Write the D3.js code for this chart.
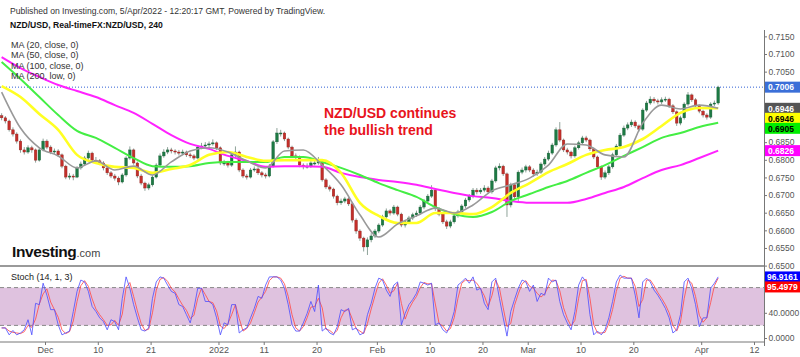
<!DOCTYPE html>
<html><head><meta charset="utf-8">
<script src="https://cdn.jsdelivr.net/npm/d3@7"></script>
<style>body{margin:0;background:#fff}svg{display:block;font-family:"Liberation Sans",Arial,sans-serif}</style>
</head><body><svg id="c" width="800" height="357"></svg>
<script>
// ---- DATA (prices in pips: 1 = 0.0001) ----
const firstOpen = 6925;
const closes = [6919,6910,6885,6873,6853,6828,6822,6834,6828,6799,
6828,6853,6836,6822,6825,6814,6782,6751,6754,6751,
6777,6788,6805,6819,6799,6797,6791,6777,6763,6754,
6748,6737,6757,6805,6828,6791,6754,6734,6720,6729,
6751,6785,6811,6822,6828,6825,6822,6819,6822,6814,
6811,6805,6836,6839,6842,6845,6848,6834,6791,6791,
6785,6814,6822,6771,6754,6751,6771,6774,6763,6757,
6754,6782,6851,6876,6876,6859,6836,6811,6808,6785,
6780,6782,6791,6791,6797,6743,6723,6717,6697,6678,
6683,6689,6675,6629,6598,6578,6553,6573,6584,6598,
6615,6638,6655,6649,6666,6646,6615,6624,6635,6644,
6649,6666,6683,6697,6714,6661,6646,6624,6612,6624,
6641,6652,6669,6686,6697,6714,6709,6714,6720,6709,
6740,6777,6782,6760,6672,6729,6695,6765,6771,6780,
6771,6760,6765,6788,6802,6819,6842,6885,6856,6828,
6822,6811,6834,6848,6862,6856,6831,6808,6780,6751,
6763,6780,6814,6839,6870,6890,6899,6907,6896,6887,
6941,6961,6972,6967,6964,6970,6972,6953,6936,6904,
6919,6958,6984,6970,6953,6938,6927,6921,6958,6961,
7006];
const highs = [6932,6924,6914,6892,6878,6858,6836,6841,6840,6832,
6834,6860,6858,6841,6832,6830,6818,6786,6762,6760,
6782,6795,6811,6826,6823,6808,6802,6796,6781,6768,
6760,6753,6762,6810,6838,6832,6795,6760,6738,6735,
6756,6790,6818,6830,6836,6834,6830,6828,6829,6826,
6820,6816,6842,6848,6850,6852,6858,6852,6838,6800,
6797,6820,6838,6826,6776,6760,6777,6781,6779,6768,
6763,6788,6856,6890,6885,6880,6863,6840,6818,6812,
6790,6790,6797,6798,6808,6800,6748,6729,6721,6701,
6690,6695,6694,6679,6634,6603,6582,6580,6592,6604,
6620,6644,6662,6660,6672,6670,6650,6630,6641,6650,
6656,6672,6689,6703,6728,6718,6666,6650,6630,6630,
6646,6658,6674,6692,6703,6720,6720,6720,6728,6725,
6746,6783,6790,6786,6764,6735,6734,6770,6778,6786,
6785,6776,6772,6793,6808,6826,6848,6892,6907,6860,
6834,6826,6840,6854,6868,6868,6860,6835,6812,6784,
6770,6786,6820,6845,6876,6897,6906,6914,6912,6900,
6946,6967,6980,6978,6973,6977,6979,6976,6958,6940,
6925,6963,6992,6988,6975,6957,6942,6932,6963,6968,
7010];
const lows = [6912,6903,6880,6866,6846,6820,6815,6817,6820,6792,
6795,6824,6830,6816,6815,6808,6776,6745,6744,6742,
6748,6772,6783,6800,6794,6790,6785,6770,6757,6748,
6741,6728,6733,6752,6800,6786,6748,6728,6712,6714,
6724,6747,6780,6806,6816,6818,6815,6812,6813,6808,
6805,6799,6801,6830,6834,6836,6840,6828,6785,6783,
6778,6780,6808,6765,6748,6744,6747,6766,6757,6750,
6747,6750,6778,6845,6866,6853,6830,6805,6800,6779,
6773,6775,6777,6784,6786,6738,6717,6710,6690,6671,
6672,6677,6669,6622,6590,6570,6540,6530,6566,6578,
6592,6610,6632,6642,6644,6640,6609,6608,6619,6629,
6638,6644,6660,6678,6692,6655,6640,6618,6604,6606,
6619,6636,6647,6663,6680,6691,6702,6703,6708,6703,
6704,6735,6770,6754,6638,6665,6688,6680,6759,6764,
6765,6752,6754,6760,6782,6797,6814,6837,6850,6822,
6815,6804,6806,6829,6843,6850,6825,6802,6774,6743,
6745,6757,6775,6809,6834,6865,6884,6893,6890,6880,
6882,6936,6956,6960,6957,6958,6964,6947,6930,6896,
6898,6914,6953,6964,6947,6932,6920,6914,6916,6952,
6956];
// moving averages, one value every 5 candles
const ma20 = [6992,6890,6834,6811,6777,6797,6771,6782,6757,6794,6825,6834,6822,6797,6777,6825,6828,6785,6729,6644,6581,6618,6641,6663,6649,6672,6712,6729,6748,6785,6845,6842,6814,6808,6904,6955,6944,6955,6946];
const ma50 = [7009,6978,6930,6885,6814,6791,6780,6777,6763,6774,6785,6814,6822,6808,6797,6799,6799,6799,6763,6678,6641,6621,6621,6649,6649,6646,6666,6706,6734,6765,6788,6814,6828,6836,6859,6896,6933,6947,6946];
const ma100 = [7077,7029,6978,6927,6882,6862,6834,6805,6782,6780,6782,6791,6794,6794,6794,6808,6808,6794,6777,6757,6734,6714,6695,6666,6646,6638,6652,6683,6703,6723,6740,6763,6785,6811,6836,6862,6876,6893,6905];
const ma200 = [7091,7060,7035,7012,6995,6978,6955,6933,6902,6870,6845,6831,6811,6797,6780,6782,6782,6780,6763,6751,6743,6737,6729,6717,6706,6697,6692,6683,6678,6678,6678,6689,6706,6723,6748,6771,6785,6805,6826];
const stochK = [16,16,5,12,5,8,13,29,5,55,53,87,68,45,45,21,5,8,11,42,74,92,89,74,50,42,32,26,13,29,26,13,63,97,79,53,32,13,11,16,63,89,97,95,84,74,71,53,50,37,24,47,79,79,58,58,53,32,5,24,21,53,53,8,13,16,32,47,66,63,84,97,
97,97,92,79,53,21,11,11,24,39,58,42,84,11,16,8,5,18,45,42,47,13,16,5,8,37,55,79,95,92,76,66,84,89,21,39,53,61,71,89,87,84,87,21,24,13,8,21,42,84,89,95,87,97,76,79,55,45,89,95,63,32,3,42,61,79,92,89,74,84,
58,71,68,95,89,92,58,37,24,13,42,84,97,89,37,5,11,5,13,32,58,89,100,95,95,95,68,32,89,95,89,76,68,58,47,32,8,13,37,89,95,79,53,18,32,32,79,87,97];
const stochD = [16,16,11,9,8,7,10,20,17,30,54,70,78,57,45,33,13,7,10,27,58,83,91,82,62,46,37,29,20,21,28,20,38,80,88,66,43,23,12,14,40,76,93,96,90,79,73,62,52,44,31,36,63,79,69,58,56,43,19,15,23,37,53,31,11,15,24,40,57,65,74,91,
97,97,95,86,66,37,16,11,18,32,49,50,63,48,14,12,7,12,32,44,45,30,15,11,7,23,46,67,87,94,84,71,75,87,55,30,46,57,66,80,88,86,86,54,23,19,11,15,32,63,87,92,91,92,87,78,67,50,67,92,79,48,18,23,52,70,86,91,82,79,
71,65,70,82,92,91,75,48,31,19,28,63,91,93,63,21,8,8,9,23,45,74,95,98,95,95,82,50,61,92,92,83,72,63,53,40,20,11,25,63,92,87,66,36,25,32,56,83,95];
const tickDays = [0,7,14,23,29,36,44,51,58,64,71,78,87,94];
const tickLabels = ["Dec","10","21","2022","11","20","Feb","10","20","Mar","10","20","Apr","12"];
const priceTicks = [6500,6550,6600,6650,6700,6750,6800,6850,6900,6950,7000,7050,7100,7150];
const stochTicks = [0,40,80];
const maNames = ["MA (20, close, 0)","MA (50, close, 0)","MA (100, close, 0)","MA (200, low, 0)"];
const lastK = 96.9161, lastD = 95.4979;

// ---- DRAW ----
const svg = d3.select("#c");
const AX = 764;
const FF = "Liberation Sans, Arial, sans-serif";
const x = d3.scaleLinear().domain([0,94]).range([45,754]);
const cDay = i => -5.75 + 0.5*i;
const y = d3.scaleLinear().domain([6500,7100]).range([265.6,54]);
const ys = d3.scaleLinear().domain([0,100]).range([338,275]);

const defs = svg.append("defs");
defs.append("clipPath").attr("id","cm").append("rect").attr("x",0).attr("y",30).attr("width",AX).attr("height",236);
defs.append("clipPath").attr("id","cs").append("rect").attr("x",0).attr("y",267).attr("width",AX).attr("height",74);

// header texts
svg.append("text").attr("x",10).attr("y",13.5).attr("font-size",8.6).attr("fill","#333")
  .text("Published on Investing.com, 5/Apr/2022 - 12:20:17 GMT, Powered by TradingView.");
svg.append("text").attr("x",10).attr("y",28).attr("font-size",8.6).attr("font-weight","bold").attr("fill","#111")
  .text("NZD/USD, Real-timeFX:NZD/USD, 240");

const gm = svg.append("g").attr("clip-path","url(#cm)");
// last price dotted line
gm.append("line").attr("x1",0).attr("x2",AX).attr("y1",y(closes[closes.length-1])).attr("y2",y(closes[closes.length-1]))
  .attr("stroke","#2f5fd6").attr("stroke-dasharray","1,2").attr("stroke-width",1);

const candles = closes.map((c,i)=>({i, o: i ? closes[i-1] : firstOpen, c, h: highs[i], l: lows[i]}));
gm.append("g").selectAll("line").data(candles).join("line")
  .attr("x1",d=>x(cDay(d.i))).attr("x2",d=>x(cDay(d.i)))
  .attr("y1",d=>y(d.h)).attr("y2",d=>y(d.l))
  .attr("stroke","#8fa39a").attr("stroke-width",1);
gm.append("g").selectAll("rect").data(candles).join("rect")
  .attr("x",d=>x(cDay(d.i))-1.3).attr("width",2.6)
  .attr("y",d=>y(Math.max(d.o,d.c)))
  .attr("height",d=>Math.max(1,Math.abs(y(d.o)-y(d.c))))
  .attr("fill",d=>d.c>=d.o?"#1d7a44":"#c42f2a")
  .attr("stroke",d=>d.c>=d.o?"#175f36":"#8e2520").attr("stroke-width",0.4);

const maLine = d3.line().x((d,k)=>x(cDay(5*k))).y(d=>y(d)).curve(d3.curveMonotoneX);
[[ma200,"#ff22ff",2],[ma100,"#44ee44",2],[ma50,"#ffff22",2.6],[ma20,"#999999",1.6]].forEach(([arr,col,w])=>{
  gm.append("path").datum(arr).attr("d",maLine).attr("fill","none").attr("stroke",col).attr("stroke-width",w);
});

// MA legend
maNames.forEach((t,k)=>svg.append("text").attr("x",11).attr("y",48+10.4*k).attr("font-size",9).attr("fill","#333").text(t));

// annotation
const ann = svg.append("text").attr("x",324).attr("font-size",14).attr("font-weight","bold").attr("fill","#e8141c");
ann.append("tspan").attr("x",324).attr("y",118).text("NZD/USD continues");
ann.append("tspan").attr("x",324).attr("y",135).text("the bullish trend");

// Investing.com logo
const logo = svg.append("text").attr("x",12).attr("y",257);
logo.append("tspan").attr("font-size",15.5).attr("font-weight","bold").attr("fill","#111").attr("letter-spacing",-0.4).text("Investing");
logo.append("tspan").attr("font-size",11).attr("fill","#444").text(".com");

// separators and axes lines
svg.append("line").attr("x1",0).attr("x2",AX).attr("y1",266).attr("y2",266).attr("stroke","#9a9a9a").attr("stroke-width",2);
svg.append("line").attr("x1",0).attr("x2",AX).attr("y1",342).attr("y2",342).attr("stroke","#777").attr("stroke-width",1);
svg.append("line").attr("x1",AX+0.5).attr("x2",AX+0.5).attr("y1",30).attr("y2",346).attr("stroke","#777").attr("stroke-width",1);

// price label boxes (stacked)
const boxes = [
  {v: closes[closes.length-1], bg:"#3b6fd8", fg:"#fff"},
  {v: ma20[ma20.length-1], bg:"#555555", fg:"#fff"},
  {v: ma50[ma50.length-1], bg:"#ffff00", fg:"#000"},
  {v: ma100[ma100.length-1], bg:"#00ee00", fg:"#000"},
  {v: ma200[ma200.length-1], bg:"#ff00ff", fg:"#fff"}
];
let prevBottom = -1e9;
boxes.forEach(b=>{ let c = y(b.v); if (c-5 < prevBottom) c = prevBottom+5; b.yc = c; prevBottom = c+5; });

// price axis
const yAxis = d3.axisRight(y).tickValues(priceTicks.filter(t=>!boxes.some(b=>Math.abs(y(t)-b.yc)<8)))
  .tickFormat(d=>(d/10000).toFixed(4)).tickSize(3).tickPadding(1.5);
const ga = svg.append("g").attr("transform",`translate(${AX},0)`).call(yAxis);
ga.select(".domain").remove();
ga.selectAll("line").attr("stroke","#777");
ga.selectAll("text").attr("font-size",8.5).attr("fill","#555").attr("font-family",FF);

boxes.forEach(b=>{
  svg.append("rect").attr("x",AX+1).attr("y",b.yc-5.5).attr("width",36).attr("height",11).attr("fill",b.bg);
  svg.append("text").attr("x",AX+4).attr("y",b.yc+3.2).attr("font-size",8.5).attr("font-weight","bold").attr("fill",b.fg).text((b.v/10000).toFixed(4));
});

// stochastic pane
const gs = svg.append("g").attr("clip-path","url(#cs)");
gs.append("rect").attr("x",0).attr("width",AX).attr("y",ys(80)).attr("height",ys(20)-ys(80)).attr("fill","#dfc2df");
[80,20].forEach(v=>gs.append("line").attr("x1",0).attr("x2",AX).attr("y1",ys(v)).attr("y2",ys(v))
  .attr("stroke","#888").attr("stroke-dasharray","4,3").attr("stroke-width",1));
const sLine = d3.line().x((d,i)=>x(cDay(i))).y(d=>ys(d));
gs.append("path").datum(stochD).attr("d",sLine).attr("fill","none").attr("stroke","#ff4d4d").attr("stroke-width",1).attr("opacity",0.85);
gs.append("path").datum(stochK).attr("d",sLine).attr("fill","none").attr("stroke","#4b4bff").attr("stroke-width",1).attr("opacity",0.8);
svg.append("text").attr("x",11).attr("y",280).attr("font-size",9).attr("fill","#222").text("Stoch (14, 1, 3)");

const sBoxes = [{v:lastK,bg:"#0000ff"},{v:lastD,bg:"#ff0000"}];
prevBottom = -1e9;
sBoxes.forEach(b=>{ let c = ys(b.v); if (c-5 < prevBottom) c = prevBottom+5; b.yc = c; prevBottom = c+5; });
const sAxis = d3.axisRight(ys).tickValues(stochTicks.filter(t=>!sBoxes.some(b=>Math.abs(ys(t)-b.yc)<8)))
  .tickFormat(d=>d.toFixed(4)).tickSize(3).tickPadding(1.5);
const gsa = svg.append("g").attr("transform",`translate(${AX},0)`).call(sAxis);
gsa.select(".domain").remove();
gsa.selectAll("line").attr("stroke","#777");
gsa.selectAll("text").attr("font-size",8.5).attr("fill","#555").attr("font-family",FF);
sBoxes.forEach(b=>{
  svg.append("rect").attr("x",AX+1).attr("y",b.yc-5.5).attr("width",36).attr("height",11).attr("fill",b.bg);
  svg.append("text").attr("x",AX+3).attr("y",b.yc+3.2).attr("font-size",8.5).attr("font-weight","bold").attr("fill","#fff").text(b.v.toFixed(4));
});

// x axis
const xAxis = d3.axisBottom(x).tickValues(tickDays).tickFormat((d,i)=>tickLabels[i]).tickSize(3).tickPadding(2);
const gx = svg.append("g").attr("transform","translate(0,342)").call(xAxis);
gx.select(".domain").remove();
gx.selectAll("line").attr("stroke","#777");
gx.selectAll("text").attr("font-size",9).attr("fill","#555").attr("font-family",FF);
</script></body></html>
